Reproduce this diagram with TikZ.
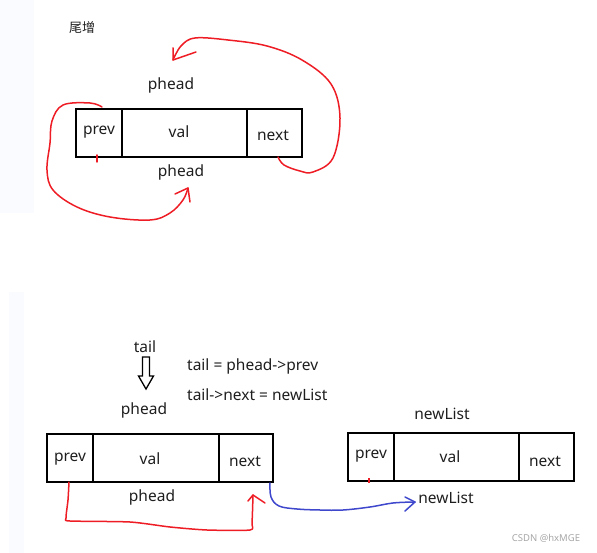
\documentclass[tikz,border=0pt]{standalone}
\usepackage{fontspec}
\setmainfont{Noto Sans}
\newfontfamily\cjk{Noto Sans CJK SC}
\usetikzlibrary{arrows.meta}
\definecolor{hred}{HTML}{EE1C24}
\definecolor{hblue}{HTML}{3F48CC}
\definecolor{txt}{HTML}{1E1E1E}
\definecolor{band}{HTML}{FAFBFE}
\tikzset{
  lbl/.style={font=\fontsize{15.5}{16}\selectfont, text=txt, inner sep=0pt},
  cell/.style={draw=black, line width=2.8pt, minimum height=48pt, inner sep=0pt, outer sep=0pt, anchor=west},
  redpen/.style={hred, line width=1.5pt, line cap=round, line join=round},
  bluepen/.style={hblue, line width=1.5pt, line cap=round, line join=round},
}
\begin{document}
\begin{tikzpicture}[x=1pt,y=-1pt]
\useasboundingbox (0,0) rectangle (597,553);
\fill[band] (0,0) rectangle (34,213);
\fill[band] (9,292) rectangle (24,553);

\node[lbl, font=\cjk\fontsize{13}{14}\selectfont] (title) at (82,28) {尾增};

% top list
\node[cell, minimum width=46pt] (p1) at (76,133) {};
\node[cell, minimum width=125pt] (v1) at (p1.east) {};
\node[cell, minimum width=55pt] (n1) at (v1.east) {};
\node[lbl] at (99,132) {prev};
\node[lbl] at (179,132) {val};
\node[lbl] at (273,135) {next};
\node[lbl] (ph1) at (171,85) {phead};
\node[lbl] (ph2) at (181,172) {phead};

% red curve next -> top
\draw[redpen] plot[smooth, tension=0.6] coordinates {(278,157) (284,165) (300,171) (313,172) (333,158) (340,118) (331,84) (302,60) (267,46) (228,40) (195,38) (181,46) (173,60)};
\draw[redpen] (196,52) -- (173,60) -- (173,48);
% red curve prev -> bottom
\draw[redpen] plot[smooth, tension=0.6] coordinates {(102,107) (90,103) (63,105) (52,121) (50,143) (47,170) (53,190) (77,207) (110,217) (150,220) (170,213) (183,200) (188,188)};
\draw[redpen] (175,194) -- (188,188) -- (190,202);
\draw[redpen] (97,155) -- (97,162);

% bottom list 1
\node[cell, minimum width=46pt] (p2) at (47,458) {};
\node[cell, minimum width=126pt] (v2) at (p2.east) {};
\node[cell, minimum width=54pt] (n2) at (v2.east) {};
\node[lbl] at (70,459) {prev};
\node[lbl] at (150,459) {val};
\node[lbl] at (245,461) {next};
\node[lbl] (ph3) at (144,410) {phead};
\node[lbl] (ph4) at (152,497) {phead};

% bottom list 2
\node[cell, minimum width=46pt] (p3) at (348,457) {};
\node[cell, minimum width=125pt] (v3) at (p3.east) {};
\node[cell, minimum width=55pt] (n3) at (v3.east) {};
\node[lbl] at (371,456) {prev};
\node[lbl] at (450,457) {val};
\node[lbl] at (545,461) {next};
\node[lbl] (nl1) at (442,414) {newList};
\node[lbl] (nl2) at (446,498) {newList};
\draw[hred, line width=1.2pt] (369,478) -- (369,483);

% tail arrow
\node[lbl] (tail) at (145,347) {tail};
\draw[black, line width=1.3pt, line join=miter]
  (142.5,357) -- (149.5,357) -- (149.5,376) -- (153.5,376) -- (146,389) -- (138.5,376) -- (142.5,376) -- cycle;
\node[lbl, anchor=west] (c1) at (187,366) {tail = phead->prev};
\node[lbl, anchor=west] (c2) at (187,395) {tail->next = newList};

% red prev -> next
\draw[redpen] plot[smooth, tension=0.4] coordinates {(69,482) (68,500) (66,518) (70,521) (130,522) (170,527) (207,530) (250,530) (252,523) (253,495)};
\draw[redpen] (248,501) -- (253,495) -- (265,503);
% blue next -> newList
\draw[bluepen] plot[smooth, tension=0.6] coordinates {(270,483) (271,497) (279,506) (297,509) (320,510) (343,510) (370,507) (393,503) (415,502)};
\draw[bluepen] (405,497) -- (415,502) -- (405,511);

\node[font=\fontsize{9.5}{10}\selectfont, text=gray!70, inner sep=0pt] (csdn) at (546,538) {CSDN @hxMGE};
\end{tikzpicture}
\end{document}
